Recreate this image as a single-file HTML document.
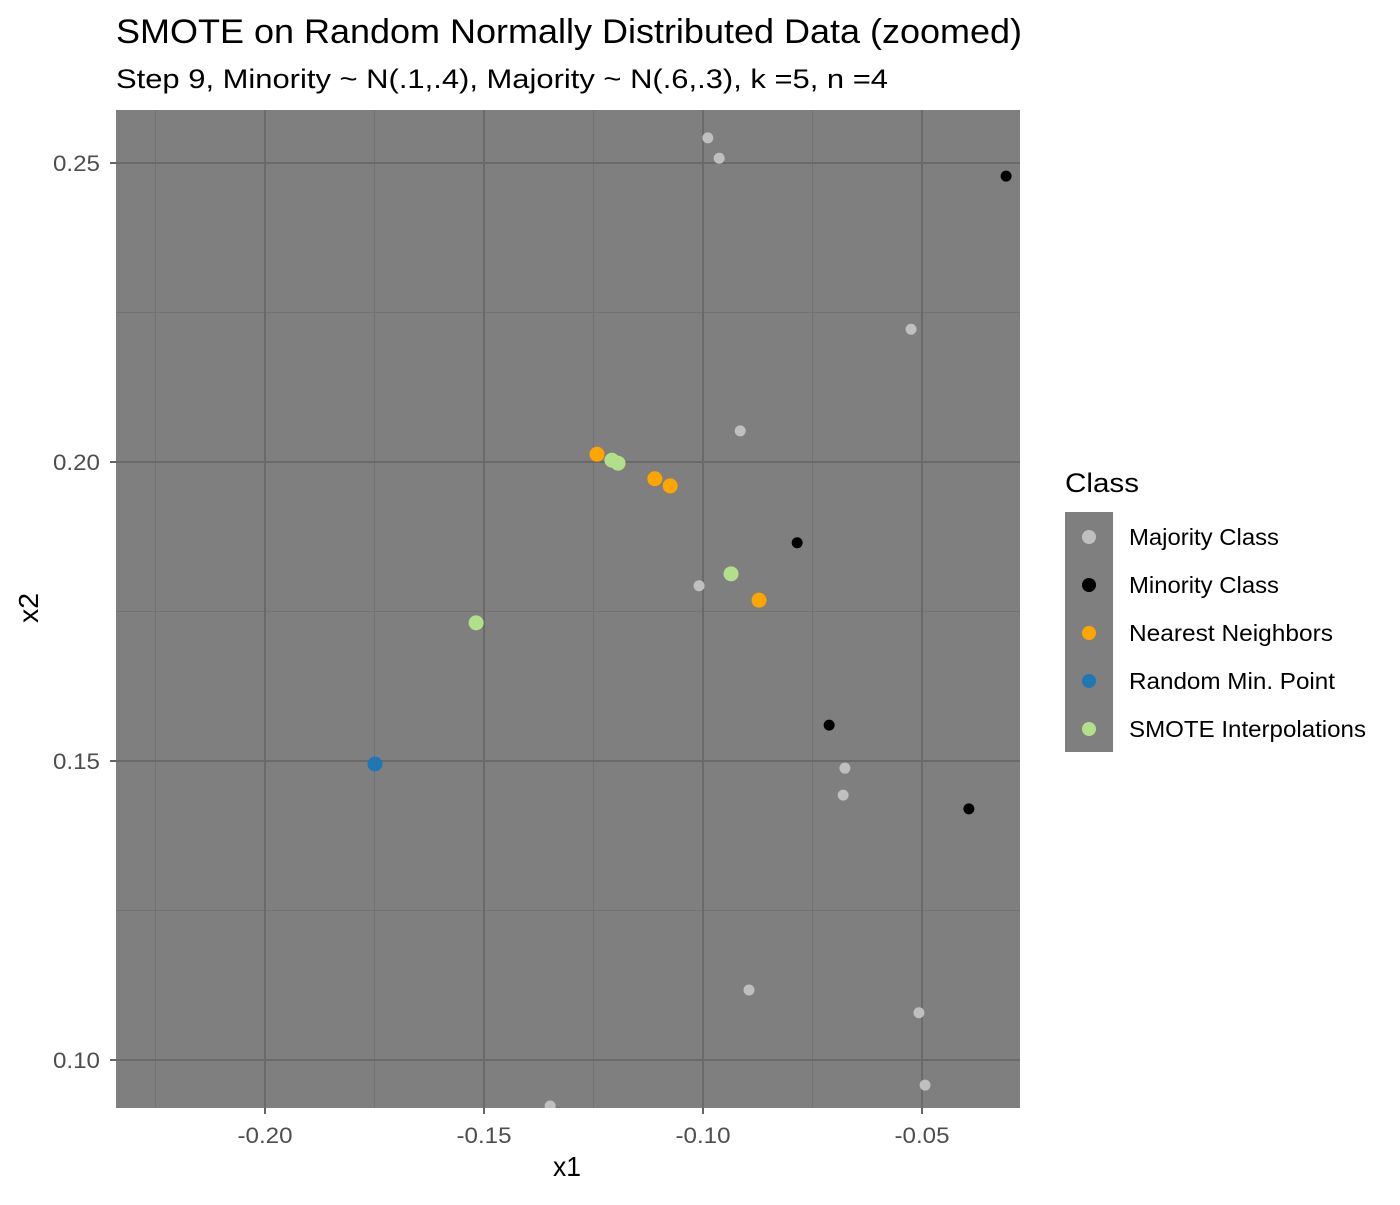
<!DOCTYPE html>
<html><head><meta charset="utf-8"><style>
html,body{margin:0;padding:0;background:#fff;}
svg text{font-family:"Liberation Sans",Arial,sans-serif;}
</style></head><body>
<svg id="chart" width="1400" height="1200" viewBox="0 0 1400 1200" xmlns="http://www.w3.org/2000/svg">
<text x="116" y="43" font-size="34" fill="#000" textLength="906" lengthAdjust="spacingAndGlyphs">SMOTE on Random Normally Distributed Data (zoomed)</text>
<text x="116" y="88" font-size="27" fill="#000" textLength="772" lengthAdjust="spacingAndGlyphs">Step 9, Minority ~ N(.1,.4), Majority ~ N(.6,.3), k =5, n =4</text>
<defs><clipPath id="pc"><rect x="116" y="110" width="904" height="998"/></clipPath></defs>
<rect x="116" y="110" width="904" height="998" fill="#7f7f7f"/>
<g id="grid"></g>
<g id="pts" clip-path="url(#pc)"></g>
<g id="axes"></g>
<text x="567" y="1176" font-size="28" text-anchor="middle" fill="#000" textLength="28" lengthAdjust="spacingAndGlyphs">x1</text>
<text transform="translate(38,608) rotate(-90)" font-size="28" text-anchor="middle" fill="#000" textLength="30" lengthAdjust="spacingAndGlyphs">x2</text>
<text x="1065" y="492" font-size="27" fill="#000" textLength="74" lengthAdjust="spacingAndGlyphs">Class</text>
<rect x="1065" y="512" width="48" height="240" fill="#7f7f7f"/>
<g id="legend"></g>
</svg>
<script>
const xTicks=[-0.20,-0.15,-0.10,-0.05];
const xTickLabels=["-0.20","-0.15","-0.10","-0.05"];
const yTicks=[0.10,0.15,0.20,0.25];
const yTickLabels=["0.10","0.15","0.20","0.25"];
const xMinor=[-0.225,-0.175,-0.125,-0.075];
const yMinor=[0.125,0.175,0.225];
const classNames=["Majority Class","Minority Class","Nearest Neighbors","Random Min. Point","SMOTE Interpolations"];
const classColors=["#bfbfbf","#000000","#ffa500","#1f78b4","#b2df8a"];
const legendWidths=[150,150,204,206,237];
const majorityX=[-0.0989,-0.0963,-0.0525,-0.0915,-0.1009,-0.0676,-0.0680,-0.0895,-0.0507,-0.0493,-0.1349];
const majorityY=[0.2542,0.2508,0.2222,0.2052,0.1793,0.1488,0.1443,0.1117,0.1079,0.0958,0.0923];
const minorityX=[-0.0308,-0.0785,-0.0712,-0.0393];
const minorityY=[0.2478,0.1865,0.1560,0.1420];
const neighborX=[-0.1242,-0.1110,-0.1075,-0.0872];
const neighborY=[0.2013,0.1972,0.1960,0.1769];
const randomX=[-0.1749];
const randomY=[0.1495];
const smoteX=[-0.1208,-0.1194,-0.0936,-0.1518];
const smoteY=[0.2003,0.1998,0.1813,0.1731];

const NS="http://www.w3.org/2000/svg";
const L=116,R=1020,T=110,B=1108;
function sx(v){return 265+(v+0.2)/0.05*219;}
function sy(v){return 1060-(v-0.1)/0.05*299;}
function mk(tag,attrs,parent){const e=document.createElementNS(NS,tag);for(const k in attrs)e.setAttribute(k,attrs[k]);parent.appendChild(e);return e;}
const grid=document.getElementById('grid'),axes=document.getElementById('axes'),pts=document.getElementById('pts'),leg=document.getElementById('legend');
xMinor.forEach(v=>{const e=mk('line',{x1:sx(v),x2:sx(v),y1:T,y2:B,stroke:'#727272','stroke-width':1},grid);

});
yMinor.forEach(v=>{const e=mk('line',{x1:L,x2:R,y1:sy(v),y2:sy(v),stroke:'#727272','stroke-width':1},grid);

});
xTicks.forEach((v,i)=>{const x=sx(v);
const g=mk('line',{x1:x,x2:x,y1:T,y2:B,stroke:'#6a6a6a','stroke-width':2},grid);


const t=mk('line',{x1:x,x2:x,y1:B,y2:B+6,stroke:'#333','stroke-width':1.5},axes);


const l=mk('text',{x:x,y:B+35,'font-size':22,'text-anchor':'middle',fill:'#4d4d4d',textLength:55,lengthAdjust:'spacingAndGlyphs'},axes);l.textContent=xTickLabels[i];

});
yTicks.forEach((v,i)=>{const y=sy(v);
const g=mk('line',{x1:L,x2:R,y1:y,y2:y,stroke:'#6a6a6a','stroke-width':2},grid);


const t=mk('line',{x1:L-6,x2:L,y1:y,y2:y,stroke:'#333','stroke-width':1.5},axes);


const l=mk('text',{x:L-16,y:y+8,'font-size':22,'text-anchor':'end',fill:'#4d4d4d',textLength:47,lengthAdjust:'spacingAndGlyphs'},axes);l.textContent=yTickLabels[i];

});
const series=[[majorityX,majorityY,0,5.5,'majority-point'],[minorityX,minorityY,1,5.5,'minority-point'],[neighborX,neighborY,2,7.5,'neighbor-point'],[randomX,randomY,3,7.5,'random-min-point'],[smoteX,smoteY,4,7.5,'smote-point']];
series.forEach(s=>{s[0].forEach((xv,i)=>{const c=mk('circle',{cx:sx(xv),cy:sy(s[1][i]),r:s[3],fill:classColors[s[2]]},pts);

});});
classNames.forEach((n,i)=>{const y=537+i*48;
const c=mk('circle',{cx:1089,cy:y,r:7,fill:classColors[i]},leg);


const t=mk('text',{x:1129,y:y+8,'font-size':23,fill:'#000',textLength:legendWidths[i],lengthAdjust:'spacingAndGlyphs'},leg);t.textContent=n;

});
</script>
</body></html>
